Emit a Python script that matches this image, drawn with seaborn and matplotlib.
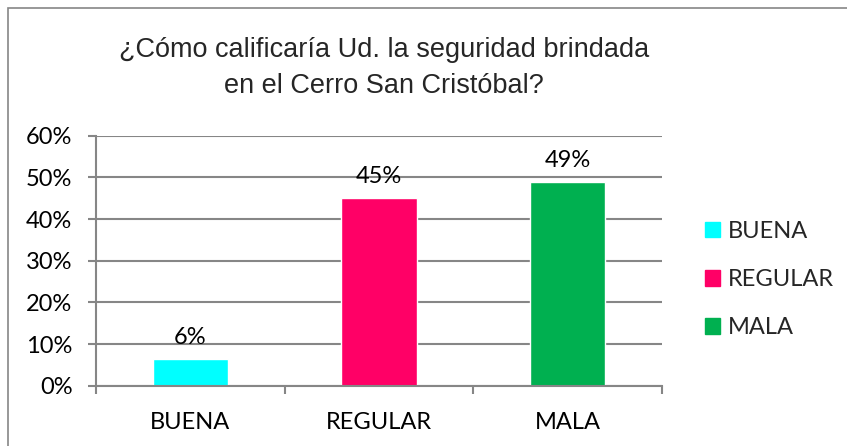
import matplotlib
matplotlib.use("Agg")
import matplotlib.pyplot as plt
import matplotlib.patches as mpatches
import seaborn as sns
import pandas as pd

# data
categorias = ["BUENA", "REGULAR", "MALA"]
porcentajes = [0.064, 0.451, 0.489]
colores = ["#00FFFF", "#FF0066", "#00B050"]
ticks_y = [0, 0.1, 0.2, 0.3, 0.4, 0.5, 0.6]
titulo = "¿Cómo calificaría Ud. la seguridad brindada\nen el Cerro San Cristóbal?"

sns.set_style("white")
plt.rcParams['font.family'] = ['Lato', 'DejaVu Sans']

df = pd.DataFrame({"categoria": categorias, "valor": porcentajes})
gris = "#868686"
fs = 17

fig = plt.figure(figsize=(8.47, 4.46), dpi=100)
ax = fig.add_axes([96 / 847, 1 - 385.7 / 446, (662 - 96) / 847, 250 / 446])

sns.barplot(data=df, x="categoria", y="valor", hue="categoria",
            palette=colores, width=0.4, saturation=1, legend=False, ax=ax)

ax.set_ylim(0, 0.6)
ax.set_xlim(-0.5, 2.5)
ax.set_yticks(ticks_y)
ax.set_yticklabels([f"{t*100:.0f}%" for t in ticks_y])
ax.set_xlabel("")
ax.set_ylabel("")

# grid and axes
ax.set_axisbelow(True)
ax.yaxis.grid(True, color=gris, linewidth=1.5)
for s in ["top", "right"]:
    ax.spines[s].set_visible(False)
for s in ["left", "bottom"]:
    ax.spines[s].set_color(gris)
    ax.spines[s].set_linewidth(1.5)

ax.tick_params(axis="y", left=True, length=6, width=1.5, color=gris,
               pad=11, labelsize=fs, labelcolor="black")
ax.set_xticks([-0.5, 0.5, 1.5, 2.5], minor=True)
ax.tick_params(axis="x", which="minor", bottom=True, length=6, width=1.5, color=gris)
ax.tick_params(axis="x", which="major", bottom=False, length=0, pad=19,
               labelsize=fs, labelcolor="black")

# data labels
for cont in ax.containers:
    ax.bar_label(cont, labels=[f"{b.get_height()*100:.0f}%" for b in cont],
                 padding=8, fontsize=fs, color="black")

# title
fig.text(384 / 847, 1 - 68 / 446, titulo, ha="center", va="center",
         fontsize=19.5, family="Liberation Sans", linespacing=1.5)

# legend
handles = [mpatches.Patch(color=c, label=l) for c, l in zip(colores, categorias)]
fig.legend(handles=handles, loc="center left", bbox_to_anchor=(705 / 847, 1 - 279.5 / 446),
           frameon=False, fontsize=fs, handlelength=0.65, handleheight=0.65,
           handletextpad=0.3, labelspacing=1.15, borderaxespad=0, borderpad=0)

# outer chart border (right and bottom edges fall outside the image)
fig.patches.append(mpatches.Rectangle((8 / 847, -0.2), 1.2, 1 - 8 / 446 + 0.2,
                                      transform=fig.transFigure, fill=False,
                                      edgecolor=gris, linewidth=1.2))

fig.savefig("out.png", dpi=100)
